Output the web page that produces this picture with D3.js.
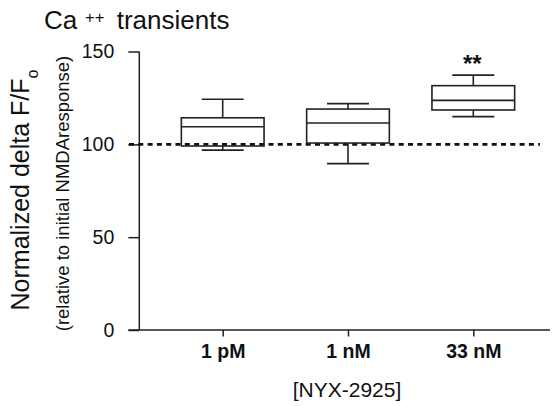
<!DOCTYPE html>
<html>
<head>
<meta charset="utf-8">
<script src="https://cdn.jsdelivr.net/npm/d3@7"></script>
<style>
  html, body { margin: 0; padding: 0; background: #fff; }
  svg { display: block; }
  text { font-family: "Liberation Sans", Arial, Helvetica, sans-serif; fill: #111; }
</style>
</head>
<body>
<svg id="chart" width="553" height="406"></svg>
<script>
// ---- data ----
const categories = ["1 pM", "1 nM", "33 nM"];
const whiskerLow  = [96.9, 89.6, 114.9];
const q1          = [99.1, 100.7, 118.5];
const median      = [109.5, 111.5, 123.7];
const q3          = [114.3, 119.0, 131.6];
const whiskerHigh = [124.3, 121.9, 137.3];
const yTicks = [0, 50, 100, 150];
const baseline = 100;
const significance = ["", "", "**"];

const svg = d3.select("#chart");
const ink = "#222";

const axisX = 139.3, axisBottomY = 330, axisTopY = 51.5;
const y = d3.scaleLinear().domain([0, 150]).range([axisBottomY, axisTopY]);
const x = d3.scalePoint().domain(categories).range([222.7, 473.3]);
const step = x.step();
const boxW = step * 0.66, capW = step * 0.335;

// y axis
const gy = svg.append("g").attr("transform", `translate(${axisX},0)`)
  .call(d3.axisLeft(y).tickValues(yTicks).tickSize(11).tickPadding(14).tickSizeOuter(0));
gy.select(".domain").remove();
gy.selectAll(".tick line").attr("stroke", ink).attr("stroke-width", 1.5);
gy.selectAll(".tick text").attr("font-size", 19.5).attr("fill", "#111")
  .style("font-family", '"Liberation Sans", Arial, sans-serif');
svg.append("line").attr("x1", axisX).attr("x2", axisX)
  .attr("y1", y(150)).attr("y2", y(0)).attr("stroke", ink).attr("stroke-width", 1.5);

// x axis
const gx = svg.append("g").attr("transform", `translate(0,${axisBottomY})`)
  .call(d3.axisBottom(x).tickSize(6.5).tickPadding(7.5).tickSizeOuter(0));
gx.select(".domain").remove();
gx.selectAll(".tick line").attr("stroke", ink).attr("stroke-width", 1.5);
gx.selectAll(".tick text").attr("font-size", 19.5).attr("font-weight", "bold").attr("fill", "#111")
  .style("font-family", '"Liberation Sans", Arial, sans-serif');
svg.append("line").attr("x1", 128.5).attr("x2", 550)
  .attr("y1", axisBottomY).attr("y2", axisBottomY).attr("stroke", ink).attr("stroke-width", 1.5);

// dashed reference line
svg.append("line").attr("x1", 129).attr("x2", 540)
  .attr("y1", y(baseline)).attr("y2", y(baseline))
  .attr("stroke", "#111").attr("stroke-width", 2.6).attr("stroke-dasharray", "5,4.3");

// boxes
const data = categories.map((c, i) => ({
  c, lo: whiskerLow[i], q1: q1[i], med: median[i], q3: q3[i], hi: whiskerHigh[i], sig: significance[i]
}));
const g = svg.append("g").attr("fill", "none").attr("stroke", ink).attr("stroke-width", 1.6);
data.forEach(d => {
  const cx = x(d.c);
  g.append("line").attr("x1", cx).attr("x2", cx).attr("y1", y(d.hi)).attr("y2", y(d.q3));
  g.append("line").attr("x1", cx).attr("x2", cx).attr("y1", y(d.q1)).attr("y2", y(d.lo));
  g.append("line").attr("x1", cx - capW / 2).attr("x2", cx + capW / 2).attr("y1", y(d.hi)).attr("y2", y(d.hi));
  g.append("line").attr("x1", cx - capW / 2).attr("x2", cx + capW / 2).attr("y1", y(d.lo)).attr("y2", y(d.lo));
  g.append("rect").attr("x", cx - boxW / 2).attr("width", boxW)
    .attr("y", y(d.q3)).attr("height", y(d.q1) - y(d.q3)).attr("fill", "none");
  g.append("line").attr("x1", cx - boxW / 2).attr("x2", cx + boxW / 2).attr("y1", y(d.med)).attr("y2", y(d.med));
  if (d.sig) {
    svg.append("text").attr("x", cx - 1).attr("y", y(d.hi) - 3)
      .attr("text-anchor", "middle").attr("font-size", 24).attr("font-weight", "bold").text(d.sig);
  }
});

// title
svg.append("text").attr("x", 44).attr("y", 29.3).attr("font-size", 26).text("Ca");
svg.append("text").attr("x", 85).attr("y", 23.3).attr("font-size", 16.5).text("++");
svg.append("text").attr("x", 116.7).attr("y", 29.3).attr("font-size", 26).text("transients");

// x title
svg.append("text").attr("x", 347).attr("y", 396.5).attr("text-anchor", "middle")
  .attr("font-size", 21).text("[NYX-2925]");

// y title (main)
const yt = svg.append("text").attr("transform", "translate(28.5,190) rotate(-90)")
  .attr("text-anchor", "middle").attr("font-size", 25);
yt.append("tspan").text("Normalized delta F/F");
yt.append("tspan").attr("font-size", 16).attr("dy", 9.5).text("o");

// y title (sub)
svg.append("text").attr("transform", "translate(68.5,193.5) rotate(-90)")
  .attr("text-anchor", "middle").attr("font-size", 18.5)
  .text("(relative to initial NMDAresponse)");
</script>
</body>
</html>
